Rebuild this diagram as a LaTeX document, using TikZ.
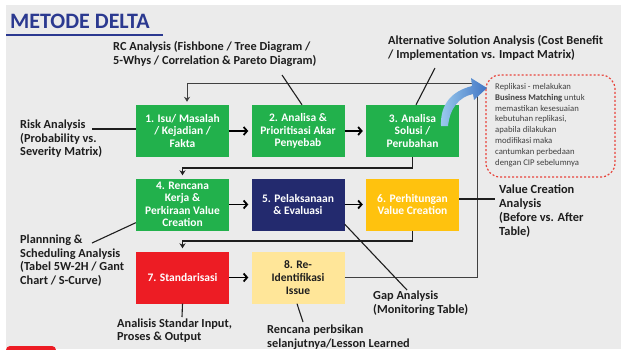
\documentclass[tikz,border=0pt]{standalone}
\usepackage{fontspec}
\setmainfont{Carlito}
\usetikzlibrary{arrows.meta}
\definecolor{bg}{HTML}{EBEBEB}
\definecolor{gr}{HTML}{22B14C}
\definecolor{nv}{HTML}{232A6E}
\definecolor{yl}{HTML}{FFC20E}
\definecolor{rd}{HTML}{ED1C24}
\definecolor{ly}{HTML}{FFE699}
\definecolor{ttl}{HTML}{2B3990}
\definecolor{ink}{HTML}{1E1E1E}
\definecolor{bla}{HTML}{9CCBEE}
\definecolor{blb}{HTML}{3F74C4}
\definecolor{dred}{HTML}{E8453C}
\begin{document}
\begin{tikzpicture}[x=1pt,y=-1pt,
  stepbox/.style={minimum width=93pt, minimum height=52pt, inner sep=1pt, align=center, text=white, font=\fontsize{11.5}{12.8}\selectfont\bfseries},
  lbl/.style={anchor=north west, inner sep=0pt, align=left, text=ink, font=\fontsize{12.3}{14}\selectfont\bfseries},
  flow/.style={draw=black, line width=1.8pt, -{Straight Barb[length=3.5pt,width=8pt]}, shorten >=3pt},
  conn/.style={draw=ink, line width=1.3pt},
  loopline/.style={draw=ink!85, line width=1pt},
  tip/.style={-{Stealth[length=5pt,width=6pt]}, shorten >=3pt},
  pin/.style={draw=ink, line width=1.1pt}]
\useasboundingbox (0,0) rectangle (621,349);
\begin{scope}
\clip (0,0) rectangle (621,349);
\fill[bg] (6,5) rectangle (621,349);
\fill[rd, rounded corners=4pt] (6,346) rectangle (56,360);

% title
\node[anchor=west, inner sep=0pt, text=ttl, font=\fontsize{22}{22}\selectfont\bfseries] (title) at (10,21) {METODE DELTA};
\draw[ttl, line width=1.8pt] (6,35) -- (163,35);

% boxes
\node[stepbox, fill=gr] (b1) at (182.5,131) {1. Isu/ Masalah\\/ Kejadian /\\Fakta};
\node[stepbox, fill=gr] (b2) at (298,131) {2. Analisa \&\\Prioritisasi Akar\\Penyebab};
\node[stepbox, fill=gr] (b3) at (412.5,131) {3. Analisa\\Solusi /\\Perubahan};
\node[stepbox, fill=gr, font=\fontsize{11.5}{12.5}\selectfont\bfseries] (b4) at (182.5,204.5) {4. Rencana\\Kerja \&\\Perkiraan Value\\Creation};
\node[stepbox, fill=nv] (b5) at (298,204.5) {5. Pelaksanaan\\\& Evaluasi};
\node[stepbox, fill=yl] (b6) at (412.5,204.5) {6. Perhitungan\\Value Creation};
\node[stepbox, fill=rd] (b7) at (182.5,277.5) {7. Standarisasi};
\node[stepbox, fill=ly, text=ink] (b8) at (298,277.5) {8. Re-\\Identifikasi\\Issue};

% flow arrows
\draw[flow] (b1.east) -- (b2.west);
\draw[flow] (b2.east) -- (b3.west);
\draw[flow] (b4.east) -- (b5.west);
\draw[flow] (b5.east) -- (b6.west);
\draw[flow] (b7.east) -- (b8.west);

% return connectors
\draw[conn, tip] (b3.south) -- (b3.south |- 0,168) -| (b4.north);
\draw[conn, tip] (b6.south) -- (b6.south |- 0,241) -| (b7.north);
\coordinate (lpa) at (477,277.5);
\coordinate (lpb) at (477,83);
\coordinate (lpc) at (187,83);
\draw[loopline, tip] (b8.east) -- (lpa) -- (lpb) -- (lpc) -- ([xshift=4.5pt]b1.north);

% labels
\node[lbl] (rc) at (113,41) {RC Analysis (Fishbone / Tree Diagram /\\5-Whys / Correlation \& Pareto Diagram)};
\node[lbl] (alt) at (388,35) {Alternative Solution Analysis (Cost Benefit\\/ Implementation vs. Impact Matrix)};
\node[lbl, font=\fontsize{12.3}{13.5}\selectfont\bfseries] (risk) at (20,120) {Risk Analysis\\(Probability vs.\\Severity Matrix)};
\node[lbl, font=\fontsize{12.3}{13.5}\selectfont\bfseries] (plan) at (20,235) {Plannning \&\\Scheduling Analysis\\(Tabel 5W-2H / Gant\\Chart / S-Curve)};
\node[lbl, font=\fontsize{12.3}{13}\selectfont\bfseries] (std) at (117,319) {Analisis Standar Input,\\Proses \& Output};
\node[lbl, font=\fontsize{12.3}{13.5}\selectfont\bfseries] (ren) at (267,325) {Rencana perbsikan\\selanjutnya/Lesson Learned};
\node[lbl] (gap) at (373,291) {Gap Analysis\\(Monitoring Table)};
\node[lbl, font=\fontsize{12.4}{13.7}\selectfont\bfseries] (val) at (499,185) {Value Creation\\Analysis\\(Before vs. After\\Table)};

% pin lines
\coordinate (rcp) at (282,75);
\draw[pin] (rcp) -- ([xshift=4pt]b2.north);
\coordinate (altp) at (435,68);
\draw[pin] (altp) -- ([xshift=3.5pt]b3.north);
\coordinate (riskp) at (92,129);
\draw[pin] (riskp) -- (b1.west |- riskp);
\coordinate (planp) at (92,243);
\draw[pin] (planp) -- ([yshift=8pt]b4.south west);
\coordinate (stdp) at (182,317);
\draw[pin] (stdp) -- (b7.south);
\coordinate (renp) at (303,322);
\draw[pin] (renp) -- ([xshift=-1pt]b8.south);
\coordinate (gapp) at (407,290);
\draw[pin] (gapp) -- ([yshift=6.5pt]b5.south east);
\coordinate (valp) at (495,199);
\draw[pin] ([yshift=5.5pt]b6.east) -- (valp);

% replication note
\draw[dred, line width=1.2pt, dash pattern=on 2pt off 2pt, rounded corners=14pt] (486,75) rectangle (615,177);
\node[anchor=north west, inner sep=0pt, align=left, text=ink!85, font=\fontsize{8.7}{10.9}\selectfont] (note) at (495,83) {Replikasi - melakukan\\\textbf{Business Matching} untuk\\memastikan kesesuaian\\kebutuhan replikasi,\\apabila dilakukan\\modifikasi maka\\cantumkan perbedaan\\dengan CIP sebelumnya};

% curved blue arrow
\shade[left color=bla, right color=blb] (441,126) .. controls (440,104) and (452,91) .. (472,86) -- (471,78) -- (487,88) -- (474,100) -- (473,94) .. controls (459,97) and (450,108) .. (448,126) -- cycle;
\end{scope}
\end{tikzpicture}
\end{document}
